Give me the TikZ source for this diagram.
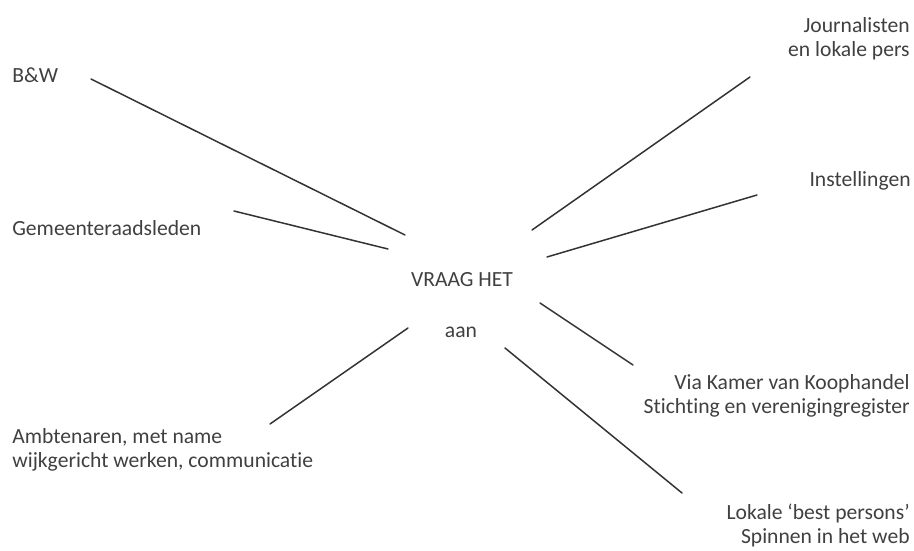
\documentclass[tikz,border=0pt]{standalone}
\usepackage{fontspec}
\setmainfont{Carlito}[Ligatures={NoCommon,NoRare}]
\usetikzlibrary{positioning}

\begin{document}
\begin{tikzpicture}[x=0.02cm,y=-0.02cm,font=\fontsize{12.3}{13.4}\selectfont,
  lbl/.style={inner sep=0pt,text=black!75},
  spoke/.style={draw=black!80,line width=0.85pt,line cap=round}]
\useasboundingbox (0,0) rectangle (914,551);
% labels (base = last line)
\node[lbl,anchor=base] (vraag) at (462,286) {VRAAG HET};
\node[lbl,anchor=base] (aan) at (461,337) {aan};
\node[lbl,anchor=base west] (bw) at (12,82) {B\&W};
\node[lbl,anchor=base west] (raad) at (12,235) {Gemeenteraadsleden};
\node[lbl,anchor=base west,align=left] (ambt) at (12,467) {Ambtenaren, met name\\wijkgericht werken, communicatie};
\node[lbl,anchor=base east,align=right] (pers) at (910,56) {Journalisten\\en lokale pers};
\node[lbl,anchor=base east] (inst) at (911,186) {Instellingen};
\node[lbl,anchor=base east,align=right] (kvk) at (910,413) {Via Kamer van Koophandel\\Stichting en verenigingregister};
\node[lbl,anchor=base east,align=right] (best) at (910,543) {Lokale `best persons'\\Spinnen in het web};
% free ends of the strokes
\coordinate (bw-a) at (91,79);   \coordinate (bw-b) at (405,235);
\coordinate (raad-a) at (234,211); \coordinate (raad-b) at (388,249);
\coordinate (ambt-a) at (270,424); \coordinate (ambt-b) at (408,328);
\coordinate (pers-a) at (532,230); \coordinate (pers-b) at (750,77);
\coordinate (inst-a) at (547,257); \coordinate (inst-b) at (757,195);
\coordinate (kvk-a) at (540,303);  \coordinate (kvk-b) at (633,365);
\coordinate (best-a) at (505,348); \coordinate (best-b) at (682,493);
\foreach \n in {bw,raad,ambt,pers,inst,kvk,best}
  \draw[spoke] (\n-a) -- (\n-b);
\end{tikzpicture}
\end{document}
